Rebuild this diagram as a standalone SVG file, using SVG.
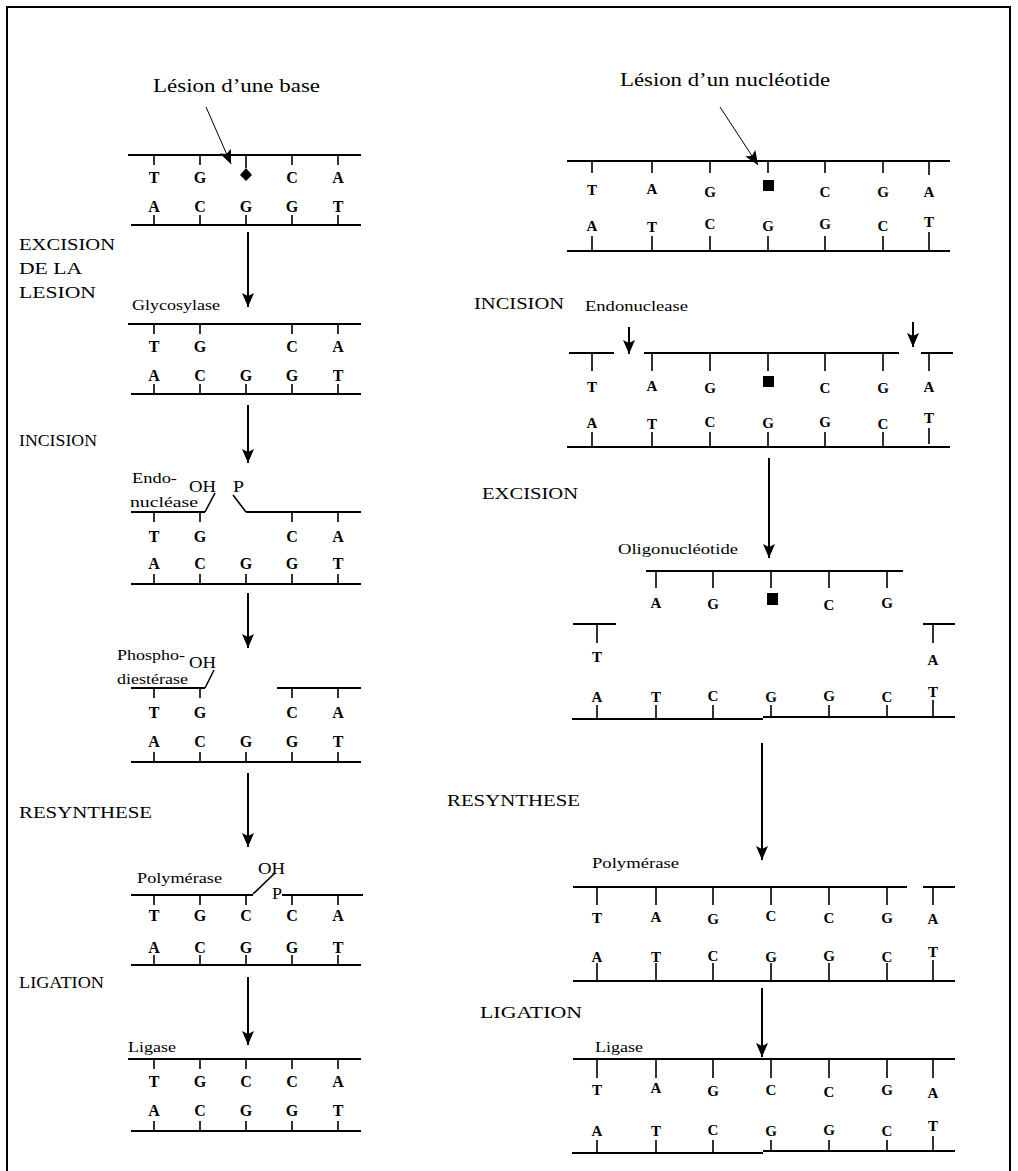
<svg xmlns="http://www.w3.org/2000/svg" width="1018" height="1171" viewBox="0 0 1018 1171">
<style>
  .s { stroke:#000; stroke-width:2; fill:none; }
  .k { stroke:#000; stroke-width:1.6; fill:none; }
  .ar { stroke:#000; stroke-width:2; fill:none; marker-end:url(#head); }
  .thin { stroke:#000; stroke-width:1; fill:none; marker-end:url(#head); }
  .b { font-family:"Liberation Serif", "Times New Roman", serif; font-weight:bold; font-size:16px; text-anchor:middle; fill:#000; }
  .br { font-family:"Liberation Serif", "Times New Roman", serif; font-weight:bold; font-size:15px; text-anchor:middle; fill:#000; }
  .lab { font-family:"Liberation Serif", "Times New Roman", serif; font-size:17px; fill:#000; }
  .ttl { font-family:"Liberation Serif", "Times New Roman", serif; font-size:19px; fill:#000; }
  .enz { font-family:"Liberation Serif", "Times New Roman", serif; font-size:14px; fill:#000; }
</style>
<defs>
  <marker id="head" viewBox="0 0 14 12" refX="14" refY="6" markerWidth="14" markerHeight="12" markerUnits="userSpaceOnUse" orient="auto">
    <path d="M0,0 L14,6 L0,12 L3,6 Z" fill="#000"/>
  </marker>
</defs>
<rect width="1018" height="1171" fill="#fff"/>
<!-- frame -->
<path d="M7,1171 V7 H1010 V1171" class="s"/>

<!-- step labels, left pathway -->
<g id="labels-left">
  <text class="lab" x="19" y="250" textLength="96" lengthAdjust="spacingAndGlyphs">EXCISION</text>
  <text class="lab" x="19" y="274" textLength="63" lengthAdjust="spacingAndGlyphs">DE LA</text>
  <text class="lab" x="19" y="298" textLength="77" lengthAdjust="spacingAndGlyphs">LESION</text>
  <text class="lab" x="19" y="446" textLength="78" lengthAdjust="spacingAndGlyphs">INCISION</text>
  <text class="lab" x="19" y="818" textLength="133" lengthAdjust="spacingAndGlyphs">RESYNTHESE</text>
  <text class="lab" x="19" y="988" textLength="85" lengthAdjust="spacingAndGlyphs">LIGATION</text>
</g>
<!-- step labels, right pathway -->
<g id="labels-right">
  <text class="lab" x="474" y="309" textLength="90" lengthAdjust="spacingAndGlyphs">INCISION</text>
  <text class="lab" x="482" y="499" textLength="96" lengthAdjust="spacingAndGlyphs">EXCISION</text>
  <text class="lab" x="447" y="806" textLength="133" lengthAdjust="spacingAndGlyphs">RESYNTHESE</text>
  <text class="lab" x="480" y="1018" textLength="102" lengthAdjust="spacingAndGlyphs">LIGATION</text>
</g>

<!-- ===== base excision repair ===== -->
<g id="ber-1">
  <text class="ttl" x="153" y="92" textLength="167" lengthAdjust="spacingAndGlyphs">Lésion d’une base</text>
  <path class="s" d="M128,155 H361 M131,225 H361"/>
  <path class="k" d="M154,155 v10 M200,155 v10 M246,155 v13 M292,155 v10 M338,155 v10 M154,215 v10 M200,215 v10 M246,215 v10 M292,215 v10 M338,215 v10"/>
  <text class="b" x="154" y="183">T</text><text class="b" x="200" y="183">G</text><text class="b" x="292" y="183">C</text><text class="b" x="338" y="183">A</text>
  <polygon points="246,168 252,175 246,181 240,175" fill="#000"/>
  <text class="b" x="154" y="212">A</text><text class="b" x="200" y="212">C</text><text class="b" x="246" y="212">G</text><text class="b" x="292" y="212">G</text><text class="b" x="338" y="212">T</text>
</g>
<g id="ber-2">
  <text class="enz" x="132" y="310" textLength="88" lengthAdjust="spacingAndGlyphs">Glycosylase</text>
  <path class="s" d="M128,324 H361 M131,394 H361"/>
  <path class="k" d="M154,324 v10 M200,324 v10 M292,324 v10 M338,324 v10 M154,384 v10 M200,384 v10 M246,384 v10 M292,384 v10 M338,384 v10"/>
  <text class="b" x="154" y="352">T</text><text class="b" x="200" y="352">G</text><text class="b" x="292" y="352">C</text><text class="b" x="338" y="352">A</text>
  <text class="b" x="154" y="381">A</text><text class="b" x="200" y="381">C</text><text class="b" x="246" y="381">G</text><text class="b" x="292" y="381">G</text><text class="b" x="338" y="381">T</text>
</g>
<g id="ber-3">
  <text class="enz" x="132" y="483" textLength="45" lengthAdjust="spacingAndGlyphs">Endo-</text>
  <text class="enz" x="130" y="507" textLength="68" lengthAdjust="spacingAndGlyphs">nucléase</text>
  <text class="lab" x="189" y="492" textLength="27" lengthAdjust="spacingAndGlyphs">OH</text>
  <text class="lab" x="233" y="492" textLength="11" lengthAdjust="spacingAndGlyphs">P</text>
  <path class="s" d="M131,512 H205 M246,512 H361 M131,584 H361"/>
  <path class="k" d="M205,512 L215,493 M233,495 L246,512"/>
  <path class="k" d="M154,512 v10 M200,512 v10 M292,512 v10 M338,512 v10 M154,574 v10 M200,574 v10 M246,574 v10 M292,574 v10 M338,574 v10"/>
  <text class="b" x="154" y="542">T</text><text class="b" x="200" y="542">G</text><text class="b" x="292" y="542">C</text><text class="b" x="338" y="542">A</text>
  <text class="b" x="154" y="569">A</text><text class="b" x="200" y="569">C</text><text class="b" x="246" y="569">G</text><text class="b" x="292" y="569">G</text><text class="b" x="338" y="569">T</text>
</g>
<g id="ber-4">
  <text class="enz" x="117" y="660" textLength="68" lengthAdjust="spacingAndGlyphs">Phospho-</text>
  <text class="enz" x="117" y="684" textLength="71" lengthAdjust="spacingAndGlyphs">diestérase</text>
  <text class="lab" x="189" y="668" textLength="27" lengthAdjust="spacingAndGlyphs">OH</text>
  <path class="s" d="M131,688 H205 M277,688 H361 M131,762 H361"/>
  <path class="k" d="M205,688 L214,670"/>
  <path class="k" d="M154,688 v10 M200,688 v10 M292,688 v10 M338,688 v10 M154,752 v10 M200,752 v10 M246,752 v10 M292,752 v10 M338,752 v10"/>
  <text class="b" x="154" y="718">T</text><text class="b" x="200" y="718">G</text><text class="b" x="292" y="718">C</text><text class="b" x="338" y="718">A</text>
  <text class="b" x="154" y="747">A</text><text class="b" x="200" y="747">C</text><text class="b" x="246" y="747">G</text><text class="b" x="292" y="747">G</text><text class="b" x="338" y="747">T</text>
</g>
<g id="ber-5">
  <text class="enz" x="137" y="883" textLength="85" lengthAdjust="spacingAndGlyphs">Polymérase</text>
  <text class="lab" x="258" y="874" textLength="27" lengthAdjust="spacingAndGlyphs">OH</text>
  <text class="lab" x="272" y="899" textLength="10" lengthAdjust="spacingAndGlyphs">P</text>
  <path class="s" d="M131,895 H253 M282,895 H363 M131,965 H361"/>
  <path class="k" d="M253,894 L275,873"/>
  <path class="k" d="M154,895 v10 M200,895 v10 M246,895 v10 M292,895 v10 M338,895 v10 M154,955 v10 M200,955 v10 M246,955 v10 M292,955 v10 M338,955 v10"/>
  <text class="b" x="154" y="921">T</text><text class="b" x="200" y="921">G</text><text class="b" x="246" y="921">C</text><text class="b" x="292" y="921">C</text><text class="b" x="338" y="921">A</text>
  <text class="b" x="154" y="953">A</text><text class="b" x="200" y="953">C</text><text class="b" x="246" y="953">G</text><text class="b" x="292" y="953">G</text><text class="b" x="338" y="953">T</text>
</g>
<g id="ber-6">
  <text class="enz" x="128" y="1052" textLength="48" lengthAdjust="spacingAndGlyphs">Ligase</text>
  <path class="s" d="M128,1059 H361 M131,1131 H361"/>
  <path class="k" d="M154,1059 v10 M200,1059 v10 M246,1059 v10 M292,1059 v10 M338,1059 v10 M154,1121 v10 M200,1121 v10 M246,1121 v10 M292,1121 v10 M338,1121 v10"/>
  <text class="b" x="154" y="1087">T</text><text class="b" x="200" y="1087">G</text><text class="b" x="246" y="1087">C</text><text class="b" x="292" y="1087">C</text><text class="b" x="338" y="1087">A</text>
  <text class="b" x="154" y="1116">A</text><text class="b" x="200" y="1116">C</text><text class="b" x="246" y="1116">G</text><text class="b" x="292" y="1116">G</text><text class="b" x="338" y="1116">T</text>
</g>

<!-- ===== nucleotide excision repair ===== -->
<g id="ner-1">
  <text class="ttl" x="620" y="86" textLength="210" lengthAdjust="spacingAndGlyphs">Lésion d’un nucléotide</text>
  <path class="s" d="M567,161 H950 M567,251 H950"/>
  <path class="k" d="M592,161 v12 M652,161 v12 M710,161 v12 M768,161 v12 M825,161 v12 M883,161 v12 M929,161 v14 M592,236 v15 M652,236 v15 M710,236 v15 M768,236 v15 M825,236 v15 M883,236 v15 M929,232 v19"/>
  <text class="br" x="592" y="195">T</text><text class="br" x="652" y="194">A</text><text class="br" x="710" y="197">G</text>
  <rect x="763" y="180" width="11" height="11" fill="#000"/>
  <text class="br" x="825" y="197">C</text><text class="br" x="883" y="197">G</text><text class="br" x="929" y="197">A</text>
  <text class="br" x="592" y="231">A</text><text class="br" x="652" y="232">T</text><text class="br" x="710" y="229">C</text><text class="br" x="768" y="231">G</text><text class="br" x="825" y="229">G</text><text class="br" x="883" y="231">C</text><text class="br" x="929" y="227">T</text>
</g>
<g id="ner-2">
  <text class="enz" x="585" y="311" textLength="103" lengthAdjust="spacingAndGlyphs">Endonuclease</text>
  <path class="s" d="M569,353 H614 M644,353 H899 M921,353 H953 M567,447 H950"/>
  <path class="k" d="M592,353 v18 M652,353 v18 M710,353 v18 M768,353 v18 M825,353 v18 M883,353 v18 M929,353 v18 M592,432 v15 M652,432 v15 M710,432 v15 M768,432 v15 M825,432 v15 M883,432 v15 M929,428 v16"/>
  <text class="br" x="592" y="392">T</text><text class="br" x="652" y="391">A</text><text class="br" x="710" y="393">G</text>
  <rect x="763" y="376" width="11" height="11" fill="#000"/>
  <text class="br" x="825" y="393">C</text><text class="br" x="883" y="393">G</text><text class="br" x="929" y="392">A</text>
  <text class="br" x="592" y="428">A</text><text class="br" x="652" y="429">T</text><text class="br" x="710" y="427">C</text><text class="br" x="768" y="428">G</text><text class="br" x="825" y="427">G</text><text class="br" x="883" y="429">C</text><text class="br" x="929" y="423">T</text>
</g>
<g id="ner-3">
  <text class="enz" x="618" y="554" textLength="120" lengthAdjust="spacingAndGlyphs">Oligonucléotide</text>
  <path class="s" d="M646,571 H903 M573,624 H616 M923,624 H955 M572,719 H763 M763,717 H955"/>
  <path class="k" d="M656,571 v17 M713,571 v17 M771,571 v17 M829,571 v17 M887,571 v17 M597,624 v19 M933,624 v19 M597,705 v14 M656,705 v14 M713,705 v14 M771,705 v13 M829,705 v13 M887,705 v13 M933,700 v17"/>
  <text class="br" x="656" y="608">A</text><text class="br" x="713" y="609">G</text>
  <rect x="767" y="593" width="11" height="12" fill="#000"/>
  <text class="br" x="829" y="610">C</text><text class="br" x="887" y="608">G</text>
  <text class="br" x="597" y="662">T</text><text class="br" x="933" y="665">A</text>
  <text class="br" x="597" y="702">A</text><text class="br" x="656" y="702">T</text><text class="br" x="713" y="701">C</text><text class="br" x="771" y="702">G</text><text class="br" x="829" y="701">G</text><text class="br" x="887" y="702">C</text><text class="br" x="933" y="697">T</text>
</g>
<g id="ner-4">
  <text class="enz" x="592" y="868" textLength="87" lengthAdjust="spacingAndGlyphs">Polymérase</text>
  <path class="s" d="M573,887 H907 M923,887 H955 M573,981 H955"/>
  <path class="k" d="M597,887 v18 M656,887 v18 M713,887 v18 M771,887 v18 M829,887 v18 M887,887 v18 M933,887 v18 M597,963 v18 M656,963 v18 M713,963 v18 M771,963 v18 M829,963 v18 M887,963 v18 M933,960 v21"/>
  <text class="br" x="597" y="923">T</text><text class="br" x="656" y="922">A</text><text class="br" x="713" y="924">G</text><text class="br" x="771" y="921">C</text><text class="br" x="829" y="923">C</text><text class="br" x="887" y="923">G</text><text class="br" x="933" y="924">A</text>
  <text class="br" x="597" y="962">A</text><text class="br" x="656" y="962">T</text><text class="br" x="713" y="961">C</text><text class="br" x="771" y="962">G</text><text class="br" x="829" y="961">G</text><text class="br" x="887" y="962">C</text><text class="br" x="933" y="957">T</text>
</g>
<g id="ner-5">
  <text class="enz" x="595" y="1052" textLength="48" lengthAdjust="spacingAndGlyphs">Ligase</text>
  <path class="s" d="M573,1059 H955 M572,1153 H763 M763,1151 H955"/>
  <path class="k" d="M597,1059 v19 M656,1059 v19 M713,1059 v19 M771,1059 v19 M829,1059 v19 M887,1059 v19 M933,1059 v19 M597,1140 v13 M656,1140 v13 M713,1140 v13 M771,1140 v11 M829,1140 v11 M887,1140 v11 M933,1136 v15"/>
  <text class="br" x="597" y="1095">T</text><text class="br" x="656" y="1093">A</text><text class="br" x="713" y="1096">G</text><text class="br" x="771" y="1095">C</text><text class="br" x="829" y="1097">C</text><text class="br" x="887" y="1095">G</text><text class="br" x="933" y="1098">A</text>
  <text class="br" x="597" y="1136">A</text><text class="br" x="656" y="1136">T</text><text class="br" x="713" y="1135">C</text><text class="br" x="771" y="1136">G</text><text class="br" x="829" y="1135">G</text><text class="br" x="887" y="1136">C</text><text class="br" x="933" y="1131">T</text>
</g>

<!-- connectors -->
<g id="connectors">
  <path class="thin" d="M206,107 L231,164"/>
  <path class="thin" d="M720,107 L758,165"/>
  <path class="ar" d="M248,232 V307"/>
  <path class="ar" d="M248,405 V463"/>
  <path class="ar" d="M248,593 V648"/>
  <path class="ar" d="M248,773 V847"/>
  <path class="ar" d="M248,977 V1045"/>
  <path class="ar" d="M629,327 V354"/>
  <path class="ar" d="M913,322 V347"/>
  <path class="ar" d="M769,458 V558"/>
  <path class="ar" d="M762,743 V860"/>
  <path class="ar" d="M762,988 V1057"/>
</g>
</svg>
